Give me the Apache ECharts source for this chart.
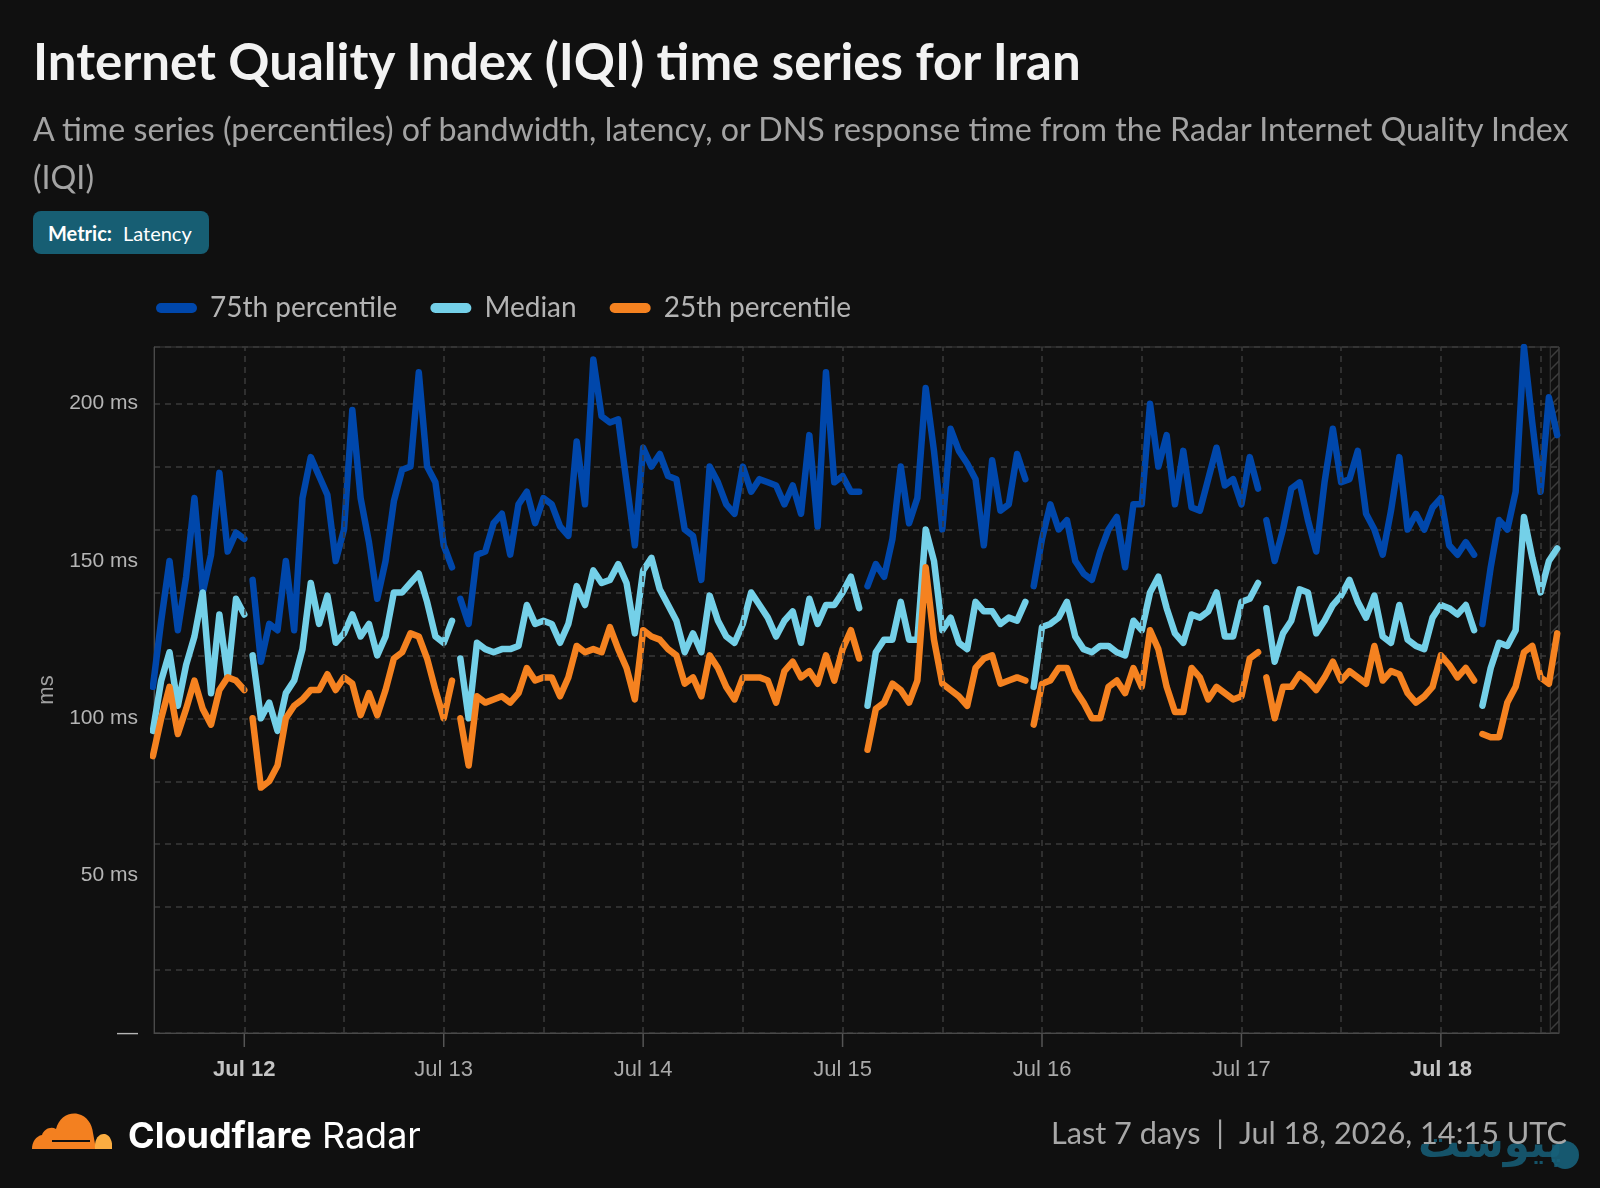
<!DOCTYPE html>
<html>
<head>
<meta charset="utf-8">
<title>Internet Quality Index (IQI) time series for Iran</title>
<script src="https://cdn.jsdelivr.net/npm/echarts@6/dist/echarts.min.js"></script>
<style>
html, body { margin: 0; padding: 0; background: #101010; }
#page { position: relative; width: 1600px; height: 1188px; overflow: hidden; background: #101010; font-family: Lato, "Noto Sans", sans-serif; }
#chart { position: absolute; left: 0; top: 0; width: 1600px; height: 1188px; }
.title { position: absolute; left: 33px; top: 30px; font-size: 51px; line-height: 1.2; font-weight: 700; color: #f2f2f2; white-space: nowrap; }
.subtitle { position: absolute; left: 33px; top: 105px; font-size: 32.2px; line-height: 48px; color: #a3a3a3; white-space: nowrap; }
.badge { position: absolute; left: 33px; top: 211px; width: 176px; height: 43px; border-radius: 8px; background: #175e73; color: #fff; font-size: 20px; display: flex; align-items: center; box-sizing: border-box; padding-left: 15px; }
.badge b { font-weight: 700; margin-right: 11px; }
.logo { position: absolute; left: 32px; top: 1109px; width: 80px; height: 40px; }
.brand { position: absolute; left: 128px; top: 1112px; font-family: Inter, Lato, sans-serif; font-size: 36px; line-height: 46px; color: #fff; white-space: nowrap; }
.brand b { font-weight: 700; }
.stamp { position: absolute; right: 33px; top: 1113px; font-size: 30.7px; line-height: 40px; color: #a8a8a8; white-space: nowrap; z-index: 3; }
.mark { position: absolute; left: 1418px; top: 1118px; font-family: "DejaVu Sans", sans-serif; font-size: 42px; font-weight: 700; color: #17607a; opacity: 0.85; white-space: nowrap; z-index: 2; }
.markdot { position: absolute; left: 1551px; top: 1141px; width: 28px; height: 28px; border-radius: 50%; background: #17607a; opacity: 0.9; z-index: 2; }
</style>
</head>
<body>
<div id="page">
  <div id="chart"></div>
  <div class="title">Internet Quality Index (IQI) time series for Iran</div>
  <div class="subtitle">A time series (percentiles) of bandwidth, latency, or DNS response time from the Radar Internet Quality Index<br>(IQI)</div>
  <div class="badge"><b>Metric:</b>Latency</div>
  <svg class="logo" viewBox="0 0 80 40">
    <path d="M0 40 C0 33 4 27 10 26 C12 20 19 17 24 20 C27 9 36 3 46 5 C55 7 60 15 61 24 L64 40 Z" fill="#f38020"/>
    <path d="M63 40 C62 30 67 24 73 25 C78 26 81 33 80 40 Z" fill="#fbad41"/>
    <path d="M20 32 L58 32" stroke="#101010" stroke-width="1.8"/>
  </svg>
  <div class="brand"><b>Cloudflare</b> Radar</div>
  <div class="mark">پیوست</div>
  <div class="markdot"></div>
  <div class="stamp">Last 7 days&nbsp; |&nbsp; Jul 18, 2026, 14:15 UTC</div>
</div>
<script>
// hourly samples, first one at Jul 11 13:00 UTC
var startTime = Date.UTC(2026, 6, 11, 13, 0);
var stepMs = 3600 * 1000;

var seriesNames = ['75th percentile', 'Median', '25th percentile'];

var p75 = [
  110, 131, 150, 128, 145, 170, 140, 152, 178, 153, 159, 157, 144, 118, 130, 128, 150, 128, 170, 183,
  177, 171, 150, 160, 198, 170, 156, 138, 150, 169, 179, 180, 210, 180, 175, 155, 148, 138, 130, 152,
  153, 162, 165, 152, 168, 172, 162, 170, 168, 161, 158, 188, 168, 214, 196, 194, 195, 175, 155, 186,
  180, 184, 177, 176, 160, 158, 144, 180, 175, 168, 165, 180, 172, 176, 175, 174, 168, 174, 165, 190,
  161, 210, 175, 177, 172, 172, 142, 149, 145, 157, 180, 162, 170, 205, 185, 160, 192, 185, 181, 176,
  155, 182, 166, 168, 184, 176, 142, 157, 168, 160, 163, 150, 146, 144, 153, 160, 164, 148, 168, 168,
  200, 180, 190, 168, 185, 167, 166, 176, 186, 174, 176, 168, 183, 173, 163, 150, 160, 173, 175, 163,
  153, 175, 192, 175, 176, 185, 165, 160, 152, 166, 183, 160, 165, 160, 167, 170, 155, 152, 156, 152,
  130, 148, 163, 160, 172, 218, 194, 172, 202, 190
];

var p50 = [
  96, 112, 121, 104, 117, 126, 140, 108, 133, 113, 138, 133, 120, 100, 105, 96, 108, 112, 122, 143,
  130, 139, 124, 127, 133, 126, 130, 120, 126, 140, 140, 143, 146, 137, 126, 124, 131, 119, 100, 124,
  122, 121, 122, 122, 123, 136, 130, 131, 130, 124, 130, 142, 136, 147, 143, 144, 149, 143, 127, 147,
  151, 141, 136, 131, 121, 127, 121, 139, 131, 126, 124, 130, 140, 136, 132, 126, 131, 134, 124, 138,
  130, 136, 136, 140, 145, 135, 104, 121, 125, 125, 137, 125, 125, 160, 150, 128, 132, 124, 122, 137,
  134, 134, 130, 132, 131, 137, 110, 129, 130, 132, 137, 126, 122, 121, 123, 123, 121, 120, 131, 128,
  140, 145, 135, 127, 124, 133, 132, 134, 140, 126, 126, 137, 138, 143, 135, 118, 127, 131, 141, 140,
  127, 131, 136, 139, 144, 137, 132, 139, 126, 124, 136, 125, 123, 122, 132, 136, 135, 133, 136, 128,
  104, 116, 124, 123, 128, 164, 151, 140, 150, 154
];

var p25 = [
  88, 100, 110, 95, 103, 112, 103, 98, 109, 113, 112, 109, 100, 78, 80, 85, 100, 104, 106, 109,
  109, 114, 109, 113, 111, 101, 108, 101, 109, 119, 121, 127, 126, 119, 109, 100, 112, 100, 85, 107,
  105, 106, 107, 105, 108, 116, 112, 113, 113, 107, 113, 123, 121, 122, 121, 129, 122, 116, 106, 128,
  126, 125, 122, 120, 111, 113, 107, 120, 116, 110, 106, 113, 113, 113, 112, 105, 115, 118, 113, 115,
  111, 120, 112, 122, 128, 119, 90, 103, 105, 111, 109, 105, 112, 148, 125, 111, 109, 107, 104, 116,
  119, 120, 111, 112, 113, 112, 98, 111, 112, 116, 116, 109, 105, 100, 100, 110, 112, 108, 116, 110,
  128, 122, 110, 102, 102, 116, 113, 106, 110, 108, 106, 107, 119, 121, 113, 100, 110, 110, 114, 112,
  109, 113, 118, 112, 115, 113, 111, 123, 112, 115, 114, 108, 105, 107, 110, 120, 117, 113, 116, 112,
  95, 94, 94, 105, 110, 121, 123, 113, 111, 127
];

// moments where the feed has no data (line breaks)
var gapTimes = [
  '2026-07-12T00:30:00Z', '2026-07-13T01:30:00Z', '2026-07-15T02:30:00Z',
  '2026-07-15T22:30:00Z', '2026-07-17T02:30:00Z', '2026-07-18T04:30:00Z'
];

var monthNames = ['Jan', 'Feb', 'Mar', 'Apr', 'May', 'Jun', 'Jul', 'Aug', 'Sep', 'Oct', 'Nov', 'Dec'];
var boldLabels = ['Jul 12', 'Jul 18'];

var axisMin = Date.UTC(2026, 6, 11, 13, 8);
var axisMax = Date.UTC(2026, 6, 18, 14, 13);
var incompleteFrom = Date.UTC(2026, 6, 18, 13, 10);
var yMax = 218;
var DAY = 24 * 3600 * 1000;
var HALF_DAY = 12 * 3600 * 1000;

var colors = ['#0047ab', '#74d0e8', '#f58220'];
var gridColor = '#3a3a3a';
var labelFont = '"Liberation Sans", Arial, sans-serif';

function buildData(values) {
  var pts = [];
  for (var i = 0; i < values.length; i++) {
    pts.push([startTime + i * stepMs, values[i]]);
  }
  for (var g = 0; g < gapTimes.length; g++) {
    pts.push([Date.parse(gapTimes[g]), '-']);
  }
  pts.sort(function (a, b) { return a[0] - b[0]; });
  return pts;
}

// vertical grid every 12 hours, day ticks every 24 hours
var halfDayLines = [];
var dayTicks = [];
for (var t = Math.ceil(axisMin / HALF_DAY) * HALF_DAY; t < axisMax; t += HALF_DAY) {
  halfDayLines.push({ xAxis: t });
  if (t % DAY === 0) dayTicks.push(t);
}

// diagonal hatch for the not-yet-complete hour
var hatch = document.createElement('canvas');
hatch.width = 12;
hatch.height = 12;
var hctx = hatch.getContext('2d');
hctx.strokeStyle = '#3c3c3c';
hctx.lineWidth = 1.5;
hctx.beginPath();
hctx.moveTo(0, 12);
hctx.lineTo(12, 0);
hctx.stroke();

var chart = echarts.init(document.getElementById('chart'));

var series = [{
  name: 'grid',
  type: 'line',
  data: [],
  z: 1,
  silent: true,
  markLine: {
    silent: true,
    symbol: 'none',
    label: { show: false },
    lineStyle: { type: [6, 5], color: gridColor, width: 1.5 },
    data: halfDayLines
  },
  markArea: {
    silent: true,
    itemStyle: { color: { image: hatch, repeat: 'repeat' }, borderColor: '#3d3d3d', borderWidth: 1 },
    data: [[{ xAxis: incompleteFrom }, { xAxis: axisMax }]]
  }
}];

var allValues = [p75, p50, p25];
for (var s = 0; s < allValues.length; s++) {
  series.push({
    name: seriesNames[s],
    type: 'line',
    data: buildData(allValues[s]),
    showSymbol: false,
    symbol: 'none',
    connectNulls: false,
    z: 2 + s,
    color: colors[s],
    lineStyle: { width: 6.5, color: colors[s], cap: 'round', join: 'round' },
    emphasis: { disabled: true }
  });
}

var option = {
  backgroundColor: 'transparent',
  animation: false,
  useUTC: true,
  legend: {
    left: 151,
    top: 289,
    itemWidth: 41,
    itemHeight: 11,
    itemGap: 33,
    icon: 'path://M5,0 L36,0 A5,5 0 0 1 36,10 L5,10 A5,5 0 0 1 5,0 Z',
    textStyle: { color: '#b4b4b4', fontSize: 28, fontFamily: 'Lato', padding: [0, 0, 0, 8] },
    data: seriesNames
  },
  grid: {
    left: 154, right: 41, top: 347, bottom: 155,
    show: true, borderColor: '#3d3d3d', borderWidth: 1
  },
  xAxis: {
    type: 'time',
    min: axisMin,
    max: axisMax,
    minInterval: DAY,
    maxInterval: DAY,
    axisLine: { show: true, lineStyle: { color: '#4a4a4a', width: 1 } },
    axisTick: { show: false },
    splitLine: { show: false },
    axisLabel: {
      margin: 26,
      color: '#aaaaaa',
      fontSize: 22,
      fontFamily: labelFont,
      showMinLabel: false,
      showMaxLabel: false,
      formatter: function (val) {
        var d = new Date(val);
        if (d.getUTCHours() !== 0 || d.getUTCMinutes() !== 0) return '';
        var txt = monthNames[d.getUTCMonth()] + ' ' + d.getUTCDate();
        return boldLabels.indexOf(txt) >= 0 ? '{b|' + txt + '}' : txt;
      },
      rich: {
        b: { fontWeight: 'bold', fontSize: 22, color: '#c4c4c4', fontFamily: labelFont }
      }
    }
  },
  yAxis: [
    {
      type: 'value',
      min: 0,
      max: yMax,
      interval: 50,
      name: 'ms',
      nameLocation: 'middle',
      nameGap: 96,
      nameTextStyle: { color: '#a0a0a0', fontSize: 22, fontFamily: labelFont },
      axisLine: { show: true, lineStyle: { color: '#4a4a4a', width: 1 } },
      axisTick: { show: false },
      splitLine: { show: false },
      axisLabel: {
        margin: 16,
        color: '#b5b5b5',
        fontSize: 21,
        fontFamily: labelFont,
        formatter: function (v) {
          if (v === 0) return '\u2014';
          if (v % 50 !== 0) return '';
          return v + ' ms';
        }
      }
    },
    {
      type: 'value',
      min: 0,
      max: yMax,
      interval: 20,
      position: 'left',
      axisLine: { show: false },
      axisTick: { show: false },
      axisLabel: { show: false },
      splitLine: { show: true, lineStyle: { type: [6, 5], color: gridColor, width: 1.5 } }
    }
  ],
  series: series
};

chart.setOption(option);

// small day ticks under the x axis, placed through the axis scale
var rect = chart.getModel().getComponent('grid').coordinateSystem.getRect();
var tickShapes = dayTicks.map(function (tv) {
  var x = chart.convertToPixel({ xAxisIndex: 0 }, tv);
  return {
    type: 'line',
    silent: true,
    shape: { x1: x, y1: rect.y + rect.height, x2: x, y2: rect.y + rect.height + 14 },
    style: { stroke: '#555', lineWidth: 1.5 }
  };
});
chart.setOption({ graphic: tickShapes });
</script>
</body>
</html>
